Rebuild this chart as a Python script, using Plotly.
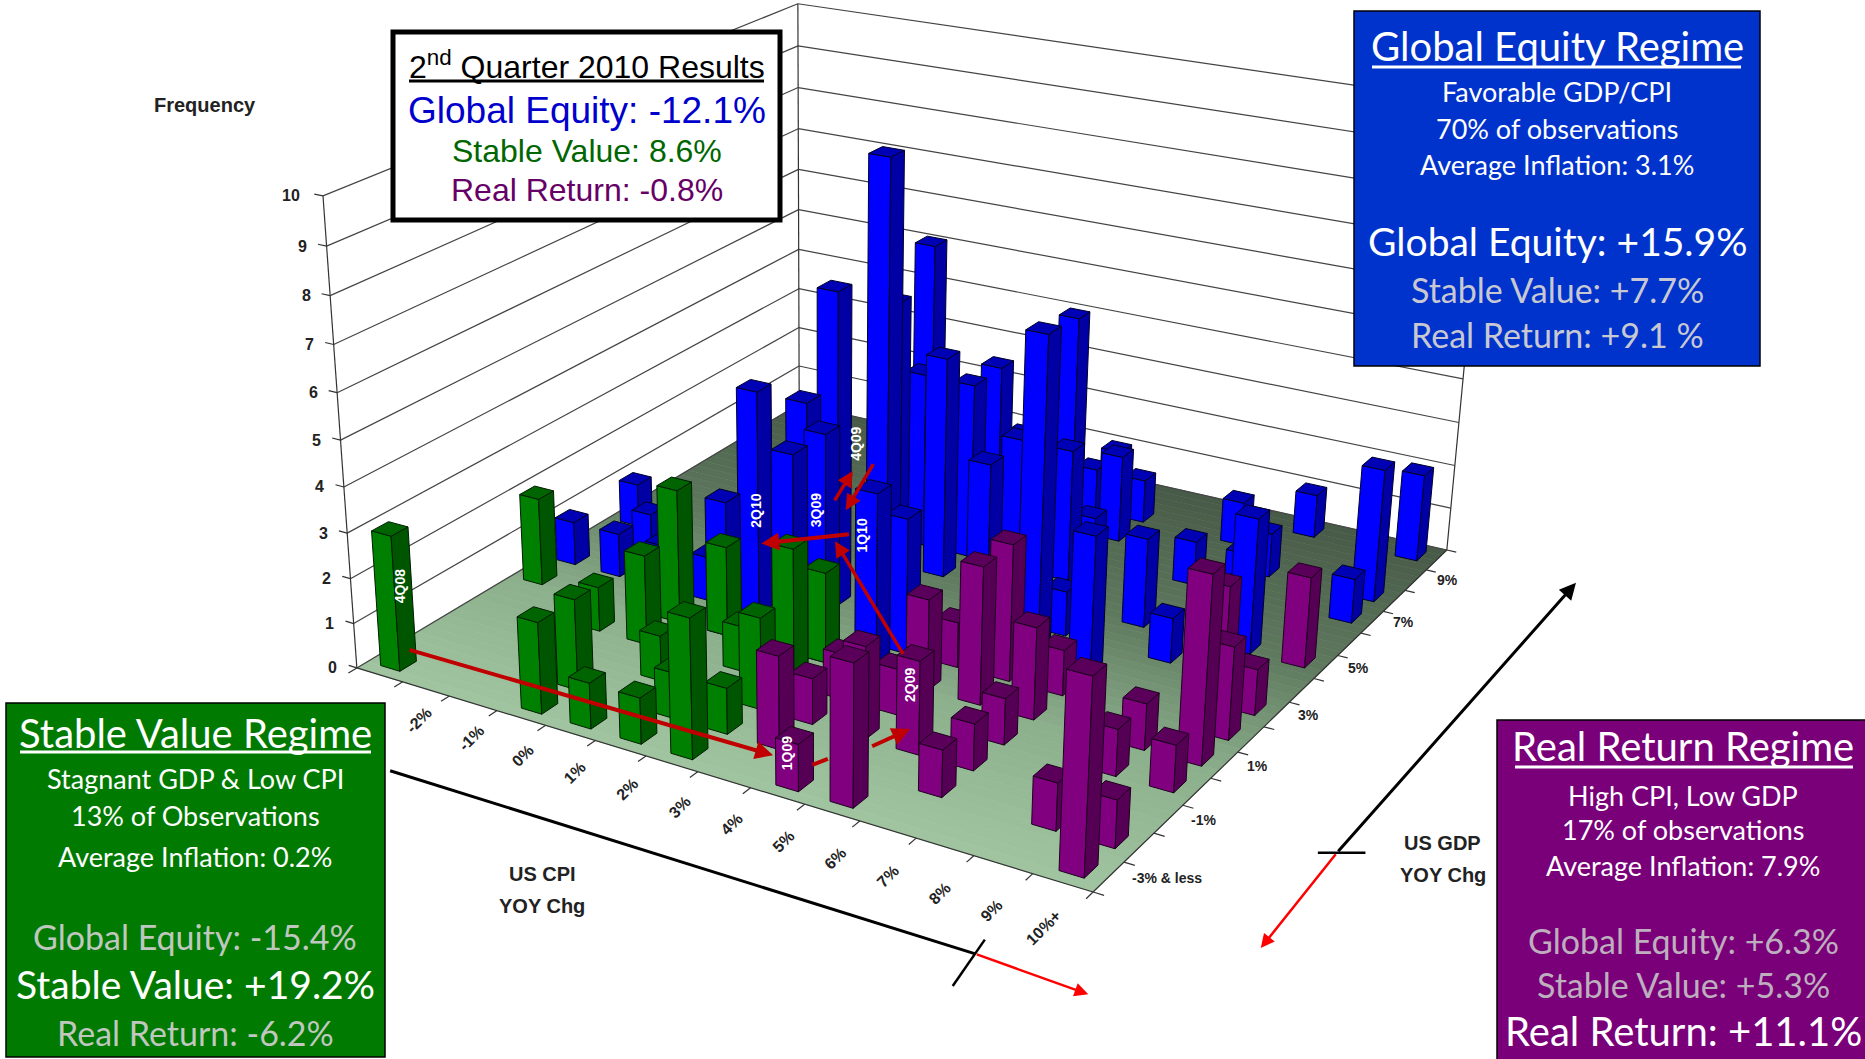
import numpy as np
import plotly.graph_objects as go

W, H = 1865, 1059
CELLS = 14            # floor grid cells per side
BAR_X, BAR_Y = 0.42, 0.44   # bar footprint, in cells

# Observation counts per (CPI cell, GDP cell), one set of arrays per regime.
stable_cpi  = [0, 0, 3, 3, 4, 2, 5, 3, 3, 6, 4, 6, 4, 6, 6, 6, 5, 5]
stable_gdp  = [0, 4, 0, 1, 0, 3, 0, 3, 4, 0, 2, 1, 4, 2, 3, 4, 1, 3]
stable_freq = [3, 2, 2, 2, 1, 1, 1, 2, 3, 3, 1, 1, 2, 2, 3, 2, 1, 1]

real_cpi  = [7, 7, 8, 9, 8, 7, 8, 9, 10, 10, 8, 8, 9, 10, 9, 10, 10, 13, 12, 13, 12, 12, 13, 13, 13, 12, 13, 13]
real_gdp  = [1, 2, 0, 0, 2, 3, 3, 2, 1, 2, 4, 5, 4, 3, 5, 4, 5, 0, 1, 1, 3, 4, 3, 4, 5, 7, 6, 8]
real_freq = [2, 1, 1, 3, 2, 1, 1, 2, 1, 1, 2, 1, 3, 1, 3, 2, 1, 4, 1, 1, 1, 1, 1, 4, 2, 2, 1, 2]

equity_cpi  = [13, 13, 13, 11, 12, 10, 11, 11, 10, 11, 10, 10, 8, 8, 7, 7, 8, 9, 4, 6, 4, 5, 6, 6,
               6, 4, 5, 6, 5, 5, 6, 7, 7, 9, 6, 7, 6, 8, 7, 8, 0, 0, 1, 1, 2, 3, 2, 3]
equity_gdp  = [11, 13, 10, 13, 8, 12, 11, 10, 10, 7, 8, 6, 10, 11, 13, 12, 12, 7, 4, 6, 11, 6, 8, 9,
               10, 5, 5, 4, 9, 8, 3, 4, 5, 6, 13, 9, 11, 9, 10, 6, 5, 7, 6, 5, 7, 5, 5, 6]
equity_freq = [3, 2, 1, 1, 3, 1, 1, 1, 1, 1, 2, 3, 1, 2, 1, 1, 1, 1, 3, 10, 6, 7, 5, 4,
               4, 5, 5, 5, 4, 6, 5, 4, 3, 7, 4, 3, 2, 3, 1, 4, 1, 1, 1, 1, 1, 1, 1, 1]

cpi_labels = ["-2%", "-1%", "0%", "1%", "2%", "3%", "4%", "5%", "6%", "7%", "8%", "9%", "10%+"]
gdp_labels = ["-3% & less", "-1%", "1%", "3%", "5%", "7%", "9%"]
freq_ticks = list(range(11))

BLUE = ('#0000FF', '#0000B4', '#0000A5', '#00002A')
GREEN = ('#008000', '#006400', '#005500', '#001E00')
PURPLE = ('#800080', '#5A005A', '#550055', '#1E001E')

# Projective camera for the pseudo-3D scene, solved from where the box corners land on the page.
anchors = [((0, 0, 0), (357, 668), 5), ((1, 0, 0), (1093, 892), 5), ((1, 1, 0), (1447, 550), 5), ((0, 1, 0), (799, 404), 5),
           ((0, 0, 1), (321, 197), 1), ((0, 0, .5), (339, 437), 1), ((0, 1, .7), (802, 130), 1), ((0, 1, .3), (800, 287), 1),
           ((1, 1, .3), (1455, 423), 1), ((1, 0, .4), (1103, 688), 1)]
rows, rhs = [], []
for (u, v, w), (sx, sy), wt in anchors:
    rows.append(np.array([u, v, w, 1, 0, 0, 0, 0, -sx*u, -sx*v, -sx*w]) * wt); rhs.append(sx * wt)
    rows.append(np.array([0, 0, 0, 0, u, v, w, 1, -sy*u, -sy*v, -sy*w]) * wt); rhs.append(sy * wt)
CAM = np.append(np.linalg.lstsq(np.array(rows), np.array(rhs), rcond=None)[0], 1).reshape(3, 4)


def proj(cx, gy, z):
    h = CAM @ np.array([cx / CELLS, gy / CELLS, z / 10, 1.0])
    return h[0] / h[2], h[1] / h[2]


def depth(cx, gy):
    return (CAM @ np.array([cx / CELLS, gy / CELLS, 0, 1.0]))[2]


fig = go.Figure()


def poly(pts, fill, line, lw=1.0):
    xs = [p[0] for p in pts] + [pts[0][0]]
    ys = [p[1] for p in pts] + [pts[0][1]]
    fig.add_trace(go.Scatter(x=xs, y=ys, mode='lines', fill='toself', fillcolor=fill,
                             line=dict(color=line, width=lw), hoverinfo='skip'))


def seg(a, b, color, lw=1.2):
    fig.add_trace(go.Scatter(x=[a[0], b[0]], y=[a[1], b[1]], mode='lines',
                             line=dict(color=color, width=lw), hoverinfo='skip'))


# Floor: banded gradient from pale green at the front to grey-green at the back.
stops = [(0, (160, 197, 160)), (.3, (140, 175, 140)), (.6, (95, 122, 95)), (1, (72, 90, 72))]


def floor_colour(t):
    return 'rgb(%d,%d,%d)' % tuple(np.interp(t, [s[0] for s in stops], [s[1][k] for s in stops]) for k in range(3))


BANDS = 52
for k in range(BANDS):
    v0, v1 = CELLS * k / BANDS, CELLS * (k + 1) / BANDS
    col = floor_colour((k + .5) / BANDS)
    poly([proj(0, v0, 0), proj(CELLS, v0, 0), proj(CELLS, v1, 0), proj(0, v1, 0)], col, col, .6)

# Walls, frame and tick marks.
for z in freq_ticks:
    seg(proj(0, 0, z), proj(0, CELLS, z), '#444444')
    seg(proj(0, CELLS, z), proj(CELLS, CELLS, z), '#444444')
    seg(proj(-.18, 0, z), proj(0, 0, z), '#333333')
for c in [(0, 0), (0, CELLS), (CELLS, CELLS)]:
    seg(proj(c[0], c[1], 0), proj(c[0], c[1], 10), '#333333')
seg(proj(0, 0, 0), proj(CELLS, 0, 0), '#333333')
seg(proj(CELLS, 0, 0), proj(CELLS, CELLS, 0), '#333333')
for k in range(CELLS + 1):
    seg(proj(k, 0, 0), proj(k, -.22, 0), '#333333')
    seg(proj(CELLS, k, 0), proj(CELLS + .18, k, 0), '#333333')

# Bars, painted back to front.
bars = []
for cpi, gdp, freq, pal in ((equity_cpi, equity_gdp, equity_freq, BLUE),
                            (stable_cpi, stable_gdp, stable_freq, GREEN),
                            (real_cpi, real_gdp, real_freq, PURPLE)):
    for i, j, h in zip(cpi, gdp, freq):
        bars.append((depth(i + .5, j + .5), i, j, h, pal))
bars.sort(key=lambda b: -b[0])
for _, i, j, h, pal in bars:
    x0, x1 = i + .5 - BAR_X / 2, i + .5 + BAR_X / 2
    y0, y1 = j + .5 - BAR_Y / 2, j + .5 + BAR_Y / 2
    poly([proj(x0, y0, 0), proj(x1, y0, 0), proj(x1, y0, h), proj(x0, y0, h)], pal[0], pal[3])
    poly([proj(x1, y0, 0), proj(x1, y1, 0), proj(x1, y1, h), proj(x1, y0, h)], pal[2], pal[3])
    poly([proj(x0, y0, h), proj(x1, y0, h), proj(x1, y1, h), proj(x0, y1, h)], pal[1], pal[3])

AXIS_FONT = 'Liberation Sans'
SC = 1865 / 1568


def label(x, y, text, size, color='black', family=AXIS_FONT, angle=0, bold=False):
    fig.add_annotation(x=x, y=y, xref='x', yref='y', text=('<b>%s</b>' % text) if bold else text, showarrow=False,
                       xanchor='center', yanchor='middle', textangle=angle, font=dict(family=family, size=size, color=color))


# Axis labels.
for k, t in enumerate(cpi_labels):
    label((352 + 43.8 * k) * SC, (606 + 14.5 * k) * SC, t, 16, '#222222', angle=-45, bold=True)
gdp_pos = [(981, 738), (1012, 689), (1057, 644), (1100, 601), (1142, 562), (1180, 523), (1217, 488)]
for (x, y), t in zip(gdp_pos, gdp_labels):
    label(x * SC, y * SC, t, 14, '#222222', bold=True)
for z in freq_ticks:
    px, py = proj(0, 0, z)
    label(px - (32 if z == 10 else 24), py, str(z), 16, '#222222', bold=True)
label(172 * SC, 88 * SC, 'Frequency', 20, '#222222', bold=True)
label(456 * SC, 735 * SC, 'US CPI', 20, '#222222', bold=True)
label(456 * SC, 762 * SC, 'YOY Chg', 20, '#222222', bold=True)
label(1213 * SC, 709 * SC, 'US GDP', 20, '#222222', bold=True)
label(1213 * SC, 736 * SC, 'YOY Chg', 20, '#222222', bold=True)


def line(x0, y0, x1, y1, color, width):
    fig.add_shape(type='line', xref='x', yref='y', x0=x0 * SC, y0=y0 * SC, x1=x1 * SC, y1=y1 * SC,
                  line=dict(color=color, width=width))


def arrow(x0, y0, x1, y1, color, width, size=1.0):
    fig.add_annotation(x=x1 * SC, y=y1 * SC, ax=x0 * SC, ay=y0 * SC, xref='x', yref='y', axref='x', ayref='y', text='',
                       showarrow=True, arrowhead=2, arrowsize=size, arrowwidth=width, arrowcolor=color, standoff=0)


# Regime-direction arrows outside the floor.
line(328, 648, 820, 802, 'black', 3)
arrow(820, 802, 915, 836, '#FF0000', 2.5, 1.1)
line(801, 829, 828, 790, 'black', 2.5)
arrow(1124, 717, 1325, 490, 'black', 3, 1.1)
arrow(1124, 717, 1060, 797, '#FF0000', 2.5, 1.1)
line(1108, 717, 1148, 717, 'black', 2.5)

# Quarter-to-quarter path across the floor.
DARK_RED = '#C00000'
arrow(343, 546, 650, 635, DARK_RED, 4, .9)
line(683, 643, 696, 638, DARK_RED, 4)
arrow(732, 628, 765, 613, DARK_RED, 4, .9)
arrow(760, 551, 702, 455, DARK_RED, 3.5, .9)
arrow(715, 449, 640, 457, DARK_RED, 4, .9)
arrow(701, 422, 717, 396, DARK_RED, 3.5, .9)
arrow(735, 389, 711, 429, DARK_RED, 3.5, .9)

quarter_tags = [('4Q08', 337, 493), ('1Q09', 662, 633), ('2Q09', 765, 576), ('1Q10', 725, 450),
                ('2Q10', 636, 429), ('3Q09', 686, 429), ('4Q09', 719, 373)]
for t, x, y in quarter_tags:
    label(x * SC, y * SC, t, 14, 'white', angle=-90, bold=True)


# Regime panels.
def panel(x0, y0, x1, y1, fill, border='black', width=1.5):
    fig.add_shape(type='rect', xref='x', yref='y', x0=x0, y0=y0, x1=x1, y1=y1, fillcolor=fill,
                  line=dict(color=border, width=width))


def rule(x0, x1, y, color, width=3):
    fig.add_shape(type='line', xref='x', yref='y', x0=x0, y0=y, x1=x1, y1=y, line=dict(color=color, width=width))


BODY = 'Lato'
panel(1354, 11, 1760, 366, '#0033CC')
for text, y, size, col in [("Global Equity Regime", 46, 40, 'white'), ("Favorable GDP/CPI", 91, 27, 'white'),
                           ("70% of observations", 128, 27, 'white'), ("Average Inflation: 3.1%", 164, 27, 'white'),
                           ("Global Equity: +15.9%", 241, 39, 'white'), ("Stable Value: +7.7%", 289, 34, '#C8C8D2'),
                           ("Real Return: +9.1 %", 334, 34, '#C8C8D2')]:
    label(1557, y, text, size, col, family=BODY)
rule(1372, 1741, 67, 'white')

panel(6, 703, 385, 1057, '#007A00')
for text, y, size, col in [("Stable Value Regime", 733, 40, 'white'), ("Stagnant GDP & Low CPI", 778, 27, 'white'),
                           ("13% of Observations", 815, 27, 'white'), ("Average Inflation: 0.2%", 856, 27, 'white'),
                           ("Global Equity: -15.4%", 936, 34, '#BFC7BF'), ("Stable Value: +19.2%", 984, 39, 'white'),
                           ("Real Return: -6.2%", 1032, 34, '#BFC7BF')]:
    label(195, y, text, size, col, family=BODY)
rule(20, 371, 752, 'white')

panel(1497, 720, 1866, 1060, '#7A007A')
for text, y, size, col in [("Real Return Regime", 746, 40, 'white'), ("High CPI, Low GDP", 795, 27, 'white'),
                           ("17% of observations", 829, 27, 'white'), ("Average Inflation: 7.9%", 865, 27, 'white'),
                           ("Global Equity: +6.3%", 940, 34, '#BDAFBD'), ("Stable Value: +5.3%", 984, 34, '#BDAFBD'),
                           ("Real Return: +11.1%", 1031, 40, 'white')]:
    label(1683, y, text, size, col, family=BODY)
rule(1515, 1853, 767, 'white')

panel(393, 32, 780, 220, 'white', 'black', 5)
label(587, 65, "2<sup>nd</sup> Quarter 2010 Results", 32, 'black')
rule(409, 764, 81, 'black')
label(587, 110, "Global Equity: -12.1%", 37, '#0000CC')
label(587, 151, "Stable Value: 8.6%", 32, '#006600')
label(587, 190, "Real Return: -0.8%", 32, '#660066')

fig.update_layout(width=W, height=H, margin=dict(l=0, r=0, t=0, b=0), showlegend=False,
                  plot_bgcolor='white', paper_bgcolor='white',
                  xaxis=dict(range=[0, W], visible=False), yaxis=dict(range=[H, 0], visible=False))
fig.write_html("out.html")
